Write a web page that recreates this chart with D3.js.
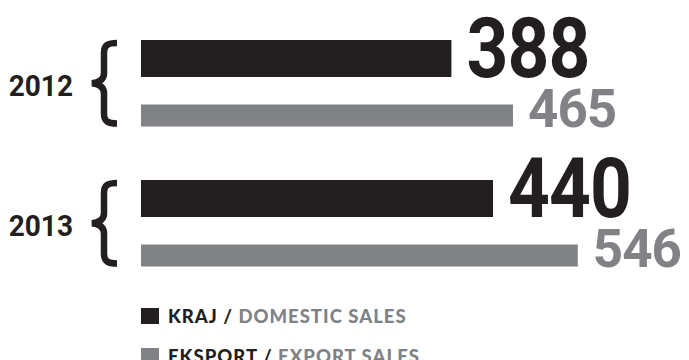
<!DOCTYPE html>
<html>
<head>
<meta charset="utf-8">
<script src="https://cdn.jsdelivr.net/npm/d3@7"></script>
<style>
  html, body { margin: 0; padding: 0; background: #ffffff; }
  svg { display: block; }
</style>
</head>
<body>
<svg id="chart" width="689" height="360"></svg>
<script>
// Sales by year: domestic vs export
const years = ["2012", "2013"];
const domestic = [388, 440];
const exportSales = [465, 546];
const legendPl = ["KRAJ", "EKSPORT"];
const legendEn = ["DOMESTIC SALES", "EXPORT SALES"];

const DARK = "#231f20";
const GREY = "#808285";
const NUM_FONT = "Roboto, 'DejaVu Sans', sans-serif";
const LEGEND_FONT = "Lato, 'Open Sans', sans-serif";

const svg = d3.select("#chart");

// horizontal value scale, zero at the bars' left edge
const x = d3.scaleLinear().domain([0, 600]).range([141, 621]);
// one band per year
const y = d3.scaleBand().domain(years).range([40, 320]).paddingInner(0);

// layout of the two bars inside a year band
const series = [
  { values: domestic,    color: DARK, offset: 0,    height: 37, fontSize: 83, squeeze: 0.88 },
  { values: exportSales, color: GREY, offset: 64.5, height: 22, fontSize: 54, squeeze: 0.98 }
];
const groupSpan = series[1].offset + series[1].height; // top of dark bar to bottom of grey bar

const rows = years.map((yr, i) => ({ yr, i }));

const groups = svg.selectAll("g.year")
  .data(rows)
  .join("g")
  .attr("class", "year")
  .attr("transform", d => `translate(0,${y(d.yr)})`);

// bars and value labels
series.forEach(s => {
  groups.append("rect")
    .attr("x", x(0))
    .attr("y", s.offset)
    .attr("width", d => x(s.values[d.i]) - x(0))
    .attr("height", s.height)
    .attr("fill", s.color);

  groups.append("text")
    .attr("transform", d => `translate(${x(s.values[d.i]) + 15},${s.offset + s.height}) scale(${s.squeeze},1)`)
    .attr("font-family", NUM_FONT)
    .attr("font-weight", 700)
    .attr("font-size", s.fontSize)
    .attr("letter-spacing", -1)
    .attr("fill", s.color)
    .text(d => s.values[d.i]);
});

// year label
groups.append("text")
  .attr("transform", `translate(73,${groupSpan / 2 + 13}) scale(0.95,1)`)
  .attr("text-anchor", "end")
  .attr("font-family", NUM_FONT)
  .attr("font-weight", 700)
  .attr("font-size", 29.5)
  .attr("fill", DARK)
  .text(d => d.yr);

// curly brace spanning both bars
function bracePath(top, bottom) {
  const mid = (top + bottom) / 2;
  const xr = 117, xs = 104, xt = 92;
  const t = top + 3, b = bottom - 3;
  return `M${xr},${t} C${xs + 4},${t} ${xs},${t + 2} ${xs},${t + 10}
          L${xs},${mid - 10} C${xs},${mid - 4} ${xs - 4},${mid - 1} ${xt},${mid}
          C${xs - 4},${mid + 1} ${xs},${mid + 4} ${xs},${mid + 10}
          L${xs},${b - 10} C${xs},${b - 2} ${xs + 4},${b} ${xr},${b}`;
}
groups.append("path")
  .attr("d", bracePath(0, groupSpan))
  .attr("fill", "none")
  .attr("stroke", DARK)
  .attr("stroke-width", 6.5);

// legend
const legendColors = [DARK, GREY];
const legend = svg.selectAll("g.legend")
  .data(legendPl.map((pl, i) => ({ pl, en: legendEn[i], i })))
  .join("g")
  .attr("class", "legend")
  .attr("transform", d => `translate(141,${308 + d.i * 40})`);

legend.append("rect")
  .attr("width", 18).attr("height", 16)
  .attr("fill", d => legendColors[d.i]);

const lt = legend.append("text")
  .attr("x", 27)
  .attr("y", 14.7)
  .attr("font-family", LEGEND_FONT)
  .attr("font-weight", 900)
  .attr("font-size", 18.5)
  .attr("letter-spacing", 1.0);
lt.append("tspan").attr("fill", DARK).text(d => d.pl + " / ");
lt.append("tspan").attr("fill", GREY).text(d => d.en);
</script>
</body>
</html>
